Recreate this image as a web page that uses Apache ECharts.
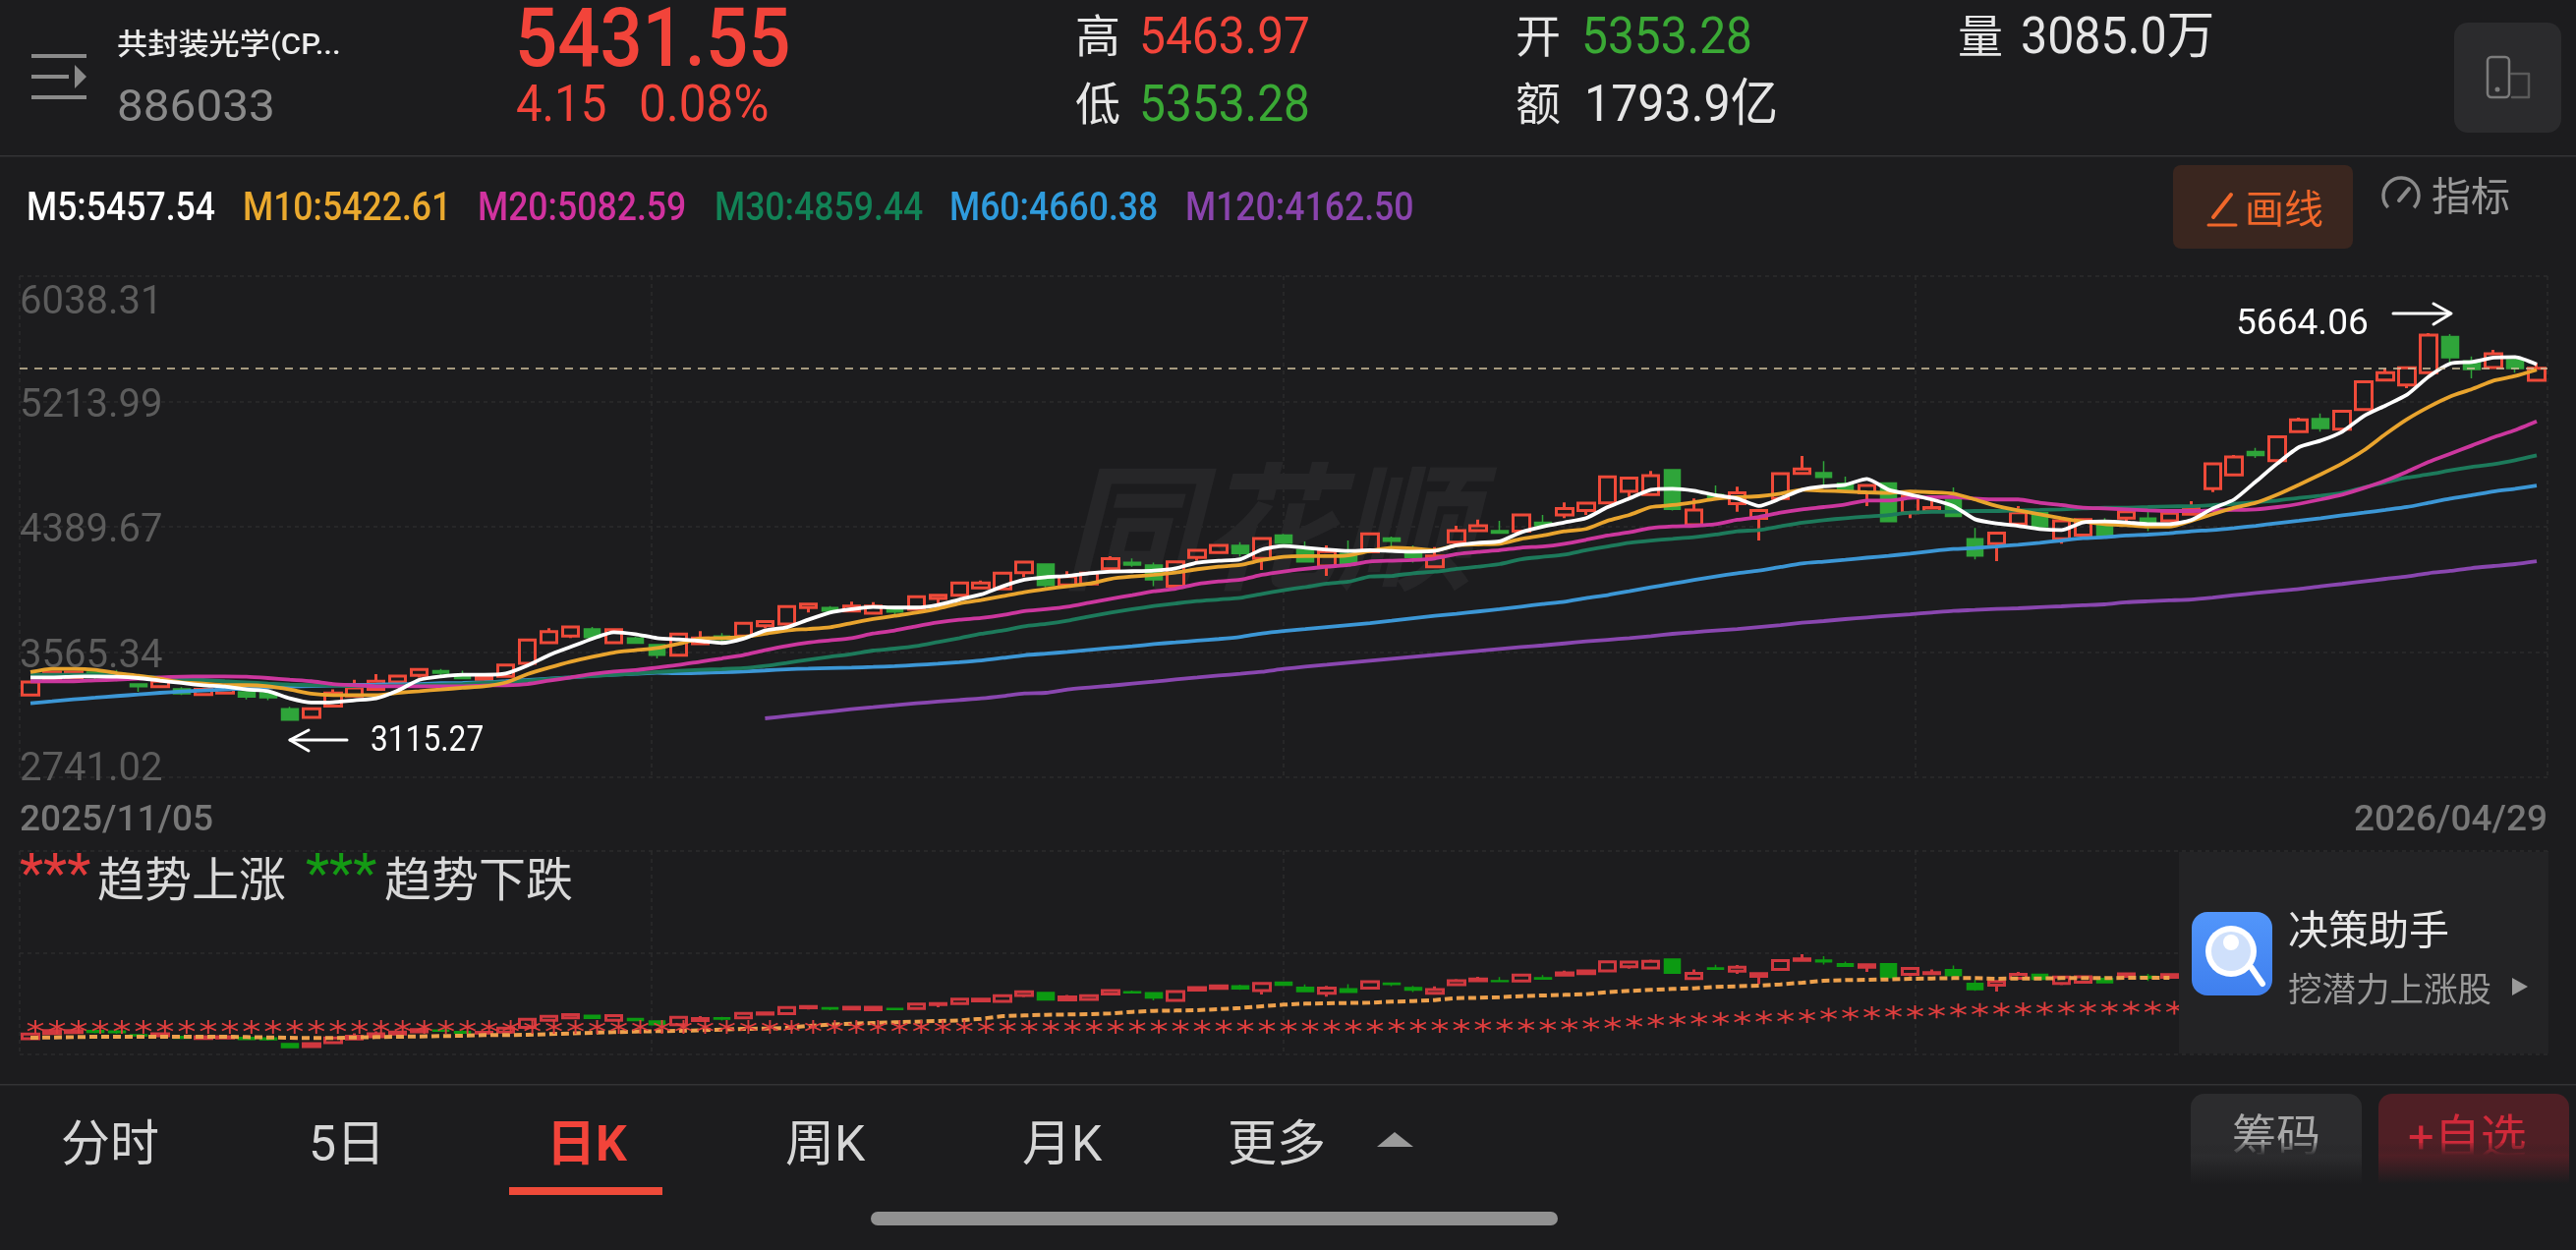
<!DOCTYPE html>
<html>
<head>
<meta charset="utf-8">
<title>共封装光学 日K</title>
<style>
  html, body { margin: 0; padding: 0; background: #1c1c1e; }
  #chart { width: 2621px; height: 1272px; }
</style>
<script src="https://cdn.jsdelivr.net/npm/echarts@6/dist/echarts.min.js"></script>
</head>
<body>
<div id="chart"></div>
<script>
var opens = [3282,3377,3398,3433,3424,3355,3338,3323,3286,3295,3304,3297,3192,3136,3209,3276,3319,3368,3411,3442,3416,3386,3405,3491,3627,3670,3717,3627,3657,3614,3545,
  3620,3670,3670,3739,3750,3858,3858,3836,3821,3847,3847,3918,3939,3987,3980,4088,4144,4006,4013,4114,4155,4138,3998,4187,4220,4267,4181,4334,4239,4131,4213,4224,
  4316,4235,4127,4288,4364,4364,4360,4418,4467,4497,4547,4622,4601,4765,4403,4601,4541,4444,4575,4741,4745,4676,4612,4678,4482,4493,4569,4310,4278,4407,4482,4310,
  4334,4403,4446,4446,4428,4472,4640,4730,4885,4825,5015,5101,5032,5161,5355,5323,5403,5640,5480,5437,5489,5353.28];
var closes = [3368,3433,3433,3400,3398,3338,3373,3291,3319,3319,3269,3265,3118,3192,3295,3330,3373,3407,3450,3426,3390,3403,3480,3644,3700,3730,3661,3713,3623,3545,3683,
  3657,3648,3754,3765,3864,3881,3836,3868,3868,3829,3929,3939,4019,4019,4084,4157,4004,4062,4084,4179,4138,4041,4159,4235,4267,4213,4312,4282,4159,4226,4148,4342,
  4295,4187,4198,4364,4396,4347,4467,4396,4510,4545,4717,4709,4726,4504,4500,4579,4612,4497,4739,4769,4715,4633,4661,4424,4590,4515,4457,4198,4347,4482,4390,4429,
  4437,4325,4489,4411,4478,4515,4804,4849,4859,4982,5092,5036,5150,5344,5403,5435,5650,5502,5424,5527,5431,5431.55];
var lows = [3282,3370,3392,3383,3373,3304,3335,3282,3284,3292,3254,3248,3116,3129,3209,3270,3315,3364,3398,3411,3386,3382,3401,3488,3625,3657,3658,3618,3620,3523,3542,
  3615,3620,3666,3722,3746,3825,3814,3832,3818,3814,3843,3868,3935,3980,3976,4058,3991,4002,4002,4110,4127,3998,3994,4166,4216,4192,4105,4279,4156,4066,4144,4220,
  4260,4153,4123,4285,4360,4344,4356,4392,4446,4467,4543,4586,4597,4497,4399,4575,4489,4299,4571,4737,4666,4630,4525,4420,4446,4490,4453,4174,4163,4403,4386,4278,
  4330,4322,4418,4360,4424,4468,4618,4726,4842,4821,5006,5015,5028,5157,5351,5301,5399,5463,5366,5433,5403,5353.28];
var highs = [3368,3440,3440,3436,3448,3355,3376,3334,3321,3321,3308,3308,3205,3196,3319,3383,3420,3412,3454,3454,3442,3407,3484,3648,3722,3734,3730,3718,3666,3618,3688,
  3702,3689,3758,3768,3868,3884,3868,3896,3894,3850,3933,3942,4023,4036,4088,4161,4148,4097,4088,4196,4181,4153,4163,4238,4270,4288,4316,4342,4293,4267,4299,4346,
  4325,4267,4256,4396,4437,4429,4471,4467,4549,4548,4721,4713,4756,4769,4575,4661,4653,4501,4743,4855,4821,4719,4665,4682,4594,4575,4648,4381,4350,4525,4486,4433,
  4441,4446,4493,4489,4482,4558,4808,4862,4909,4986,5107,5135,5154,5348,5431,5439,5664.06,5657,5510,5553,5510,5463.97];

var ma5 = [3398,3398,3403,3405,3403,3394,3377,3362,3347,3338,3319,3308,3261,3233,3235,3248,3261,3312,3383,3405,3416,3416,3424,3476,3545,3599,3653,3696,3683,3657,3648,
  3638,3625,3653,3707,3728,3778,3825,3847,3862,3858,3858,3875,3911,3944,3998,4041,4058,4066,4084,4095,4097,4101,4116,4153,4166,4176,4239,4263,4252,4239,4230,4235,
  4230,4226,4230,4267,4284,4293,4353,4390,4418,4446,4519,4575,4633,4640,4627,4597,4575,4526,4575,4633,4655,4666,4704,4633,4601,4569,4526,4439,4411,4396,4375,4368,
  4418,4424,4418,4407,4407,4433,4510,4569,4687,4806,4913,4956,5015,5118,5187,5258,5377,5463,5474,5502,5506,5457.54];
var ma10 = [3433,3455,3455,3448,3426,3409,3390,3366,3358,3347,3347,3340,3319,3291,3282,3282,3282,3297,3308,3319,3330,3340,3365,3420,3463,3502,3534,3562,3577,3592,3620,
  3653,3657,3664,3685,3707,3717,3728,3756,3782,3804,3825,3851,3885,3907,3933,3959,3980,3998,4015,4047,4062,4073,4088,4110,4127,4138,4170,4192,4196,4196,4202,4230,
  4252,4247,4235,4267,4273,4278,4310,4332,4360,4375,4429,4467,4519,4532,4551,4573,4584,4590,4607,4633,4627,4622,4616,4612,4622,4616,4607,4569,4526,4497,4472,4446,
  4424,4407,4400,4390,4390,4428,4472,4515,4547,4601,4666,4734,4806,4892,4999,5097,5178,5247,5295,5351,5381,5422.61];
var ma20 = [3373,3373,3373,3379,3383,3390,3398,3403,3405,3405,3403,3394,3383,3373,3355,3347,3340,3340,3340,3340,3340,3345,3347,3355,3377,3398,3420,3437,3446,3463,3480,
  3502,3523,3545,3577,3605,3627,3642,3657,3687,3707,3735,3760,3778,3789,3808,3834,3847,3864,3890,3916,3939,3965,3982,4013,4030,4041,4073,4095,4112,4127,4138,4161,
  4166,4170,4181,4209,4224,4235,4252,4260,4278,4304,4332,4353,4381,4392,4396,4407,4435,4454,4482,4504,4519,4536,4562,4562,4579,4584,4584,4575,4569,4569,4547,4532,
  4515,4510,4504,4497,4493,4493,4497,4500,4504,4519,4540,4569,4601,4644,4693,4752,4816,4870,4924,4978,5025,5082.59];
var ma30 = [3416,3416,3416,3416,3411,3405,3396,3388,3381,3373,3366,3358,3351,3347,3345,3342,3342,3345,3347,3351,3355,3362,3368,3377,3388,3398,3407,3416,3424,3433,3442,
  3448,3453,3459,3474,3494,3515,3534,3552,3575,3588,3605,3631,3657,3685,3707,3735,3750,3771,3799,3825,3847,3868,3885,3901,3911,3922,3948,3972,3993,4015,4028,4062,
  4066,4084,4094,4112,4127,4144,4176,4191,4206,4235,4260,4284,4299,4310,4321,4338,4360,4368,4392,4416,4433,4446,4457,4467,4482,4487,4489,4493,4493,4497,4500,4504,
  4510,4515,4515,4519,4523,4525,4532,4540,4551,4562,4579,4594,4612,4648,4681,4713,4734,4760,4784,4801,4827,4859.44];
var ma60 = [3228,3241,3254,3265,3276,3286,3297,3306,3312,3319,3325,3332,3338,3342,3345,3349,3351,3353,3355,3360,3362,3366,3373,3381,3390,3398,3409,3416,3422,3429,3425,
  3428,3432,3437,3444,3452,3456,3460,3463,3467,3472,3480,3488,3498,3510,3527,3544,3555,3566,3579,3592,3603,3618,3629,3640,3651,3665,3688,3704,3716,3729,3742,3755,
  3771,3788,3804,3817,3832,3847,3864,3881,3896,3920,3940,3965,3991,4015,4040,4063,4084,4101,4125,4148,4160,4172,4186,4198,4213,4229,4243,4250,4260,4271,4284,4299,
  4314,4321,4332,4338,4347,4360,4368,4381,4396,4413,4429,4446,4465,4482,4500,4519,4547,4575,4597,4622,4640,4660.38];
var ma120 = [null,null,null,null,null,null,null,null,null,null,null,null,null,null,null,null,null,null,null,null,null,null,null,null,null,null,null,null,null,null,null,null,null,null,
  3129,3144,3159,3174,3189,3202,3215,3228,3239,3250,3260,3275,3293,3297,3319,3332,3344,3357,3370,3385,3398,3411,3422,3435,3454,3469,3482,3495,3508,
  3521,3534,3547,3560,3573,3586,3599,3609,3622,3635,3646,3657,3670,3685,3696,3707,3717,3730,3743,3758,3769,3782,3793,3804,3814,3825,3836,3842,3849,3853,3860,3866,
  3873,3879,3892,3899,3905,3911,3924,3939,3954,3967,3980,3998,4013,4030,4047,4062,4084,4099,4118,4131,4144,4162.50];

// lower pane: dashed trend line and the red star row, the right end sits under the card
var trendLine = [3301,3307,3313,3319,3319,3319,3319,3319,3319,3319,3313,3307,3301,3295,3295,3307,3313,3319,3326,3332,3338,3350,3350,3356,3368,3381,3393,3405,3417,3423,3429,
  3441,3454,3466,3472,3484,3521,3545,3564,3576,3588,3600,3612,3624,3655,3704,3716,3728,3734,3740,3753,3783,3801,3807,3814,3832,3856,3887,3917,3936,3942,3948,3954,
  3972,3984,4003,4039,4045,4058,4076,4088,4100,4113,4149,4173,4192,4210,4222,4247,4259,4271,4296,4326,4363,4375,4381,4387,4399,4405,4411,4411,4399,4405,4405,4411,
  4411,4411,4417,4417,4417];
var starLevel = [3502,3502,3502,3502,3502,3502,3502,3502,3502,3502,3502,3502,3502,3502,3502,3502,3502,3502,3502,3502,3502,3502,3502,3502,3502,3502,3502,3502,3502,3502,3502,
  3502,3502,3502,3502,3502,3502,3502,3502,3502,3502,3502,3502,3502,3502,3502,3502,3502,3502,3502,3502,3508,3508,3508,3508,3508,3508,3508,3508,3508,3508,3508,3508,
  3520,3520,3520,3520,3527,3527,3527,3527,3533,3550,3563,3588,3612,3630,3643,3655,3667,3680,3692,3704,3729,3747,3760,3772,3778,3790,3808,3820,3827,3833,3839,3845,
  3851,3855,3857,3857,3857];

var yTickLabels = ["6038.31", "5213.99", "4389.67", "3565.34", "2741.02"];
var dateLabels = ["2025/11/05", "2026/04/29"];
var lastPrice = 5431.55;

var RED = "#ee4a39";
var GREEN = "#2fa53a";
var SUB_RED = "#d0383f";
var SUB_GREEN = "#0c9a12";
var BG = "#1c1c1e";
var GRID = "#2b2b2d";
var NUM_FONT = 'Roboto, "Noto Sans CJK SC", sans-serif';

var dayIndex = opens.map(function (v, i) { return i; });

function candleData(upBorder, downBorder) {
  return opens.map(function (open, i) {
    return {
      value: [open, closes[i], lows[i], highs[i]],
      itemStyle: { borderWidth: closes[i] >= open ? upBorder : downBorder }
    };
  });
}

function maSeries(name, data, color) {
  return {
    name: name,
    type: "line",
    xAxisIndex: 0,
    yAxisIndex: 0,
    data: data,
    symbol: "none",
    smooth: 0.2,
    connectNulls: false,
    lineStyle: { color: color, width: 3.8 },
    z: 4
  };
}

function label(text, x, y, size, color, weight, scaleX, align) {
  return {
    type: "text",
    x: x,
    y: y,
    scaleX: scaleX || 1,
    z: 30,
    silent: true,
    style: {
      text: text,
      fill: color,
      font: (weight || 400) + " " + size + "px " + NUM_FONT,
      align: align || "left",
      verticalAlign: "middle"
    }
  };
}

function box(x, y, w, h, r, fill, z) {
  return { type: "rect", z: z || 20, silent: true, shape: { x: x, y: y, width: w, height: h, r: r }, style: { fill: fill } };
}

function stroke(points, color, width) {
  return { type: "polyline", z: 30, silent: true, shape: { points: points }, style: { stroke: color, lineWidth: width, fill: null, lineCap: "round", lineJoin: "round" } };
}

function fade(color) {
  return new echarts.graphic.LinearGradient(0, 0, 0, 1, [
    { offset: 0, color: color },
    { offset: 0.55, color: color },
    { offset: 1, color: "rgba(28,28,30,0)" }
  ]);
}

var graphics = [
  // watermark
  { type: "text", x: 1080, y: 554, z: 1, silent: true, style: { text: "同花顺", fill: "#262628", font: "italic 700 140px " + NUM_FONT, verticalAlign: "middle" } },

  // header
  box(32, 55, 56, 4, 0, "#8a8a8a"),
  box(32, 76, 38, 4, 0, "#8a8a8a"),
  box(32, 97, 56, 4, 0, "#8a8a8a"),
  { type: "polygon", z: 30, silent: true, shape: { points: [[76, 66], [88, 78], [76, 90]] }, style: { fill: "#8a8a8a" } },
  label("共封装光学(CP...", 119, 47, 30, "#ececec", 500, 1.04),
  label("886033", 119, 112, 45, "#8a8a8a", 400, 1.06),
  label("5431.55", 524, 46, 84, "#f2443a", 500, 0.905),
  label("4.15", 525, 110, 52, "#f2443a", 400, 0.91),
  label("0.08%", 650, 110, 52, "#f2443a", 400, 0.95),
  label("高", 1094, 41, 46, "#e6e6e6"),
  label("5463.97", 1159, 41, 52, "#f2443a", 400, 0.92),
  label("低", 1094, 110, 46, "#e6e6e6"),
  label("5353.28", 1159, 110, 52, "#3aa935", 400, 0.92),
  label("开", 1542, 41, 46, "#e6e6e6"),
  label("5353.28", 1609, 41, 52, "#3aa935", 400, 0.92),
  label("额", 1542, 110, 46, "#e6e6e6"),
  label("1793.9亿", 1612, 110, 52, "#e6e6e6", 400, 0.93),
  label("量", 1992, 41, 46, "#e6e6e6"),
  label("3085.0万", 2056, 41, 52, "#e6e6e6", 400, 0.93),
  box(2497, 23, 109, 112, 14, "#2b2b2d"),
  { type: "rect", z: 30, silent: true, shape: { x: 2531, y: 58, width: 22, height: 41, r: 4 }, style: { stroke: "#7c7c7c", lineWidth: 2.5, fill: null } },
  { type: "circle", z: 30, silent: true, shape: { cx: 2541, cy: 91, r: 2.5 }, style: { fill: "#7c7c7c" } },
  stroke([[2555, 75], [2573, 75], [2573, 99], [2556, 99]], "#5a5a5a", 2.5),
  box(0, 158, 2621, 1.5, 0, "#333335"),

  // moving average readout
  label("M5:5457.54", 27, 214, 40, "#ffffff", 500, 0.89),
  label("M10:5422.61", 247, 214, 40, "#eaa92e", 500, 0.89),
  label("M20:5082.59", 486, 214, 40, "#d1329f", 500, 0.89),
  label("M30:4859.44", 727, 214, 40, "#128256", 500, 0.89),
  label("M60:4660.38", 966, 214, 40, "#2f9bdc", 500, 0.89),
  label("M120:4162.50", 1206, 214, 40, "#8a44ad", 500, 0.89),
  box(2211, 168, 183, 85, 8, "#3a261f"),
  stroke([[2270, 198], [2252, 221]], "#f0672a", 4),
  stroke([[2247, 229], [2275, 229]], "#f0672a", 3),
  label("画线", 2284, 217, 40, "#f0672a"),
  { type: "arc", z: 30, silent: true, shape: { cx: 2443, cy: 199, r: 18, startAngle: 2.4, endAngle: 0.75, clockwise: true }, style: { stroke: "#8a8a8a", lineWidth: 3.5, fill: null } },
  stroke([[2441, 204], [2451, 192]], "#8a8a8a", 4),
  label("指标", 2474, 204, 40, "#9a9a9a"),

  // high and low notes
  label("5664.06", 2275, 331, 36, "#ffffff", 400, 1.03),
  stroke([[2435, 319], [2493, 319]], "#ffffff", 3),
  stroke([[2476, 309], [2494, 319], [2476, 330]], "#ffffff", 3),
  label("3115.27", 377, 755, 36, "#ffffff", 400, 0.88),
  stroke([[295, 753], [353, 753]], "#ffffff", 3),
  stroke([[314, 743], [295, 753], [314, 764]], "#ffffff", 3),

  // lower pane caption
  label("***", 20, 894, 56, "#e23b3b", 400),
  label("趋势上涨", 99, 900, 48, "#d8d8d8"),
  label("***", 311, 894, 56, "#149a14", 400),
  label("趋势下跌", 391, 900, 48, "#d8d8d8"),

  // decision helper card
  box(2217, 867, 376, 205, 0, "#232325", 20),
  { type: "rect", z: 30, silent: true, shape: { x: 2230, y: 928, width: 82, height: 85, r: 16 }, style: { fill: new echarts.graphic.LinearGradient(0, 0, 0, 1, [{ offset: 0, color: "#5296fb" }, { offset: 1, color: "#3f7fee" }]) } },
  stroke([[2291, 985], [2302, 1001]], "#ffffff", 6),
  { type: "circle", z: 30, silent: true, shape: { cx: 2270, cy: 968, r: 26 }, style: { fill: "#ffffff" } },
  { type: "circle", z: 31, silent: true, shape: { cx: 2270, cy: 968, r: 20 }, style: { fill: "#cfe0fb" } },
  { type: "circle", z: 32, silent: true, shape: { cx: 2270, cy: 959, r: 8 }, style: { fill: "#ffffff" } },
  label("决策助手", 2328, 951, 41, "#e6e6e6"),
  label("挖潜力上涨股", 2328, 1010, 34.5, "#9a9a9a"),
  { type: "polygon", z: 30, silent: true, shape: { points: [[2556, 995], [2572, 1004], [2556, 1013]] }, style: { fill: "#9a9a9a" } },

  // bottom tabs
  box(0, 1103, 2621, 1.5, 0, "#333335"),
  label("分时", 62, 1168, 50, "#d6d6d6"),
  label("5日", 314, 1168, 50, "#d6d6d6"),
  label("日K", 556, 1168, 50, "#f2443a", 700),
  label("周K", 799, 1168, 50, "#d6d6d6"),
  label("月K", 1040, 1168, 50, "#d6d6d6"),
  label("更多", 1249, 1168, 50, "#d6d6d6"),
  { type: "polygon", z: 30, silent: true, shape: { points: [[1401, 1167], [1419, 1152], [1438, 1167]] }, style: { fill: "#9a9a9a" } },
  box(518, 1208, 156, 8, 0, "#ee4a39"),
  box(886, 1233, 699, 14, 7, "#919191"),

  // right buttons, the lower half is smudged in the picture
  box(2229, 1113, 174, 92, 14, fade("#2c2c2e")),
  box(2420, 1113, 194, 92, 14, fade("#4f1f25")),
  label("筹码", 2271, 1161, 45, "#a8a8a8"),
  label("+自选", 2450, 1161, 47, "#d02a3a"),
  { type: "rect", z: 35, silent: true, shape: { x: 2229, y: 1163, width: 174, height: 42 }, style: { fill: new echarts.graphic.LinearGradient(0, 0, 0, 1, [{ offset: 0, color: "rgba(44,44,46,0.2)" }, { offset: 0.3, color: "#2c2c2e" }, { offset: 1, color: "rgba(28,28,30,0.9)" }]) } },
  { type: "rect", z: 35, silent: true, shape: { x: 2420, y: 1163, width: 194, height: 42 }, style: { fill: new echarts.graphic.LinearGradient(0, 0, 0, 1, [{ offset: 0, color: "rgba(79,31,37,0.2)" }, { offset: 0.3, color: "#4f1f25" }, { offset: 1, color: "rgba(28,28,30,0.9)" }]) } }
];

var option = {
  animation: false,
  backgroundColor: BG,
  textStyle: { fontFamily: NUM_FONT },
  graphic: { elements: graphics },
  grid: [
    { left: 20, right: 29, top: 281, height: 510 },
    { left: 20, right: 29, top: 866, height: 207 }
  ],
  xAxis: [
    { type: "category", gridIndex: 0, data: dayIndex, show: false },
    {
      type: "value",
      gridIndex: 0,
      position: "bottom",
      min: 0,
      max: 4,
      interval: 1,
      axisLine: { show: false },
      axisTick: { show: false },
      splitLine: { show: true, lineStyle: { color: GRID, type: [4, 4], width: 1.5 } },
      axisLabel: {
        margin: 26,
        fontSize: 37,
        fontWeight: 500,
        color: "#777777",
        alignMinLabel: "left",
        alignMaxLabel: "right",
        formatter: function (value) {
          if (value === 0) { return dateLabels[0]; }
          if (value === 4) { return dateLabels[1]; }
          return "";
        }
      }
    },
    { type: "category", gridIndex: 1, data: dayIndex, show: false },
    {
      type: "value",
      gridIndex: 1,
      position: "bottom",
      min: 0,
      max: 4,
      interval: 1,
      axisLine: { show: false },
      axisTick: { show: false },
      axisLabel: { show: false },
      splitLine: { show: true, lineStyle: { color: GRID, type: [4, 4], width: 1.5 } }
    }
  ],
  yAxis: [
    { type: "value", gridIndex: 0, position: "left", min: 2741.02, max: 6038.31, show: false },
    {
      type: "value",
      gridIndex: 0,
      position: "left",
      min: 0,
      max: 4,
      interval: 1,
      axisLine: { show: false },
      axisTick: { show: false },
      splitLine: { show: true, lineStyle: { color: GRID, type: [4, 4], width: 1.5 } },
      axisLabel: {
        inside: true,
        margin: 0,
        formatter: function (value) {
          var text = yTickLabels[4 - value];
          if (value === 4) { return "{top|" + text + "}"; }
          if (value === 0) { return "{low|" + text + "}"; }
          return "{mid|" + text + "}";
        },
        rich: {
          top: { fontSize: 40, color: "#5c5c5c", padding: [56, 0, 0, 0] },
          mid: { fontSize: 40, color: "#5c5c5c", padding: [10, 0, 0, 0] },
          low: { fontSize: 40, color: "#5c5c5c", padding: [0, 0, 14, 0] }
        }
      }
    },
    { type: "value", gridIndex: 1, position: "left", min: 2990, max: 6778, show: false },
    {
      type: "value",
      gridIndex: 1,
      position: "left",
      min: 0,
      max: 2,
      interval: 1,
      axisLine: { show: false },
      axisTick: { show: false },
      axisLabel: { show: false },
      splitLine: { show: true, lineStyle: { color: GRID, type: [4, 4], width: 1.5 } }
    }
  ],
  series: [
    {
      name: "日K",
      type: "candlestick",
      xAxisIndex: 0,
      yAxisIndex: 0,
      barWidth: 17,
      data: candleData(3, 1.5),
      itemStyle: { color: "transparent", color0: GREEN, borderColor: RED, borderColor0: GREEN },
      z: 3,
      markLine: {
        silent: true,
        symbol: "none",
        label: { show: false },
        lineStyle: { color: "#d3c4a0", type: [8, 7], width: 1.5 },
        data: [{ yAxis: lastPrice }]
      }
    },
    maSeries("M120", ma120, "#8a47b0"),
    maSeries("M60", ma60, "#3c97d6"),
    maSeries("M30", ma30, "#1d7a5b"),
    maSeries("M20", ma20, "#cc379e"),
    maSeries("M10", ma10, "#e9a42e"),
    maSeries("M5", ma5, "#ffffff"),
    {
      name: "副图K",
      type: "candlestick",
      xAxisIndex: 2,
      yAxisIndex: 2,
      barWidth: 17,
      data: candleData(3, 1.5),
      itemStyle: { color: "transparent", color0: SUB_GREEN, borderColor: SUB_RED, borderColor0: SUB_GREEN },
      z: 3
    },
    {
      name: "趋势线",
      type: "line",
      xAxisIndex: 2,
      yAxisIndex: 2,
      data: trendLine,
      symbol: "none",
      lineStyle: { color: "#eda04c", width: 4, type: [8, 4] },
      z: 4
    },
    {
      name: "趋势上涨",
      type: "scatter",
      xAxisIndex: 2,
      yAxisIndex: 2,
      data: starLevel,
      symbol: "path://M0,-10L0,10M-8.66,-5L8.66,5M-8.66,5L8.66,-5",
      symbolSize: [16, 14],
      symbolOffset: [5, 0],
      itemStyle: { color: "none", borderColor: "#e03e3e", borderWidth: 1.8, opacity: 1 },
      z: 5
    }
  ]
};

var chart = echarts.init(document.getElementById("chart"), null, { renderer: "canvas" });
chart.setOption(option);
</script>
</body>
</html>
